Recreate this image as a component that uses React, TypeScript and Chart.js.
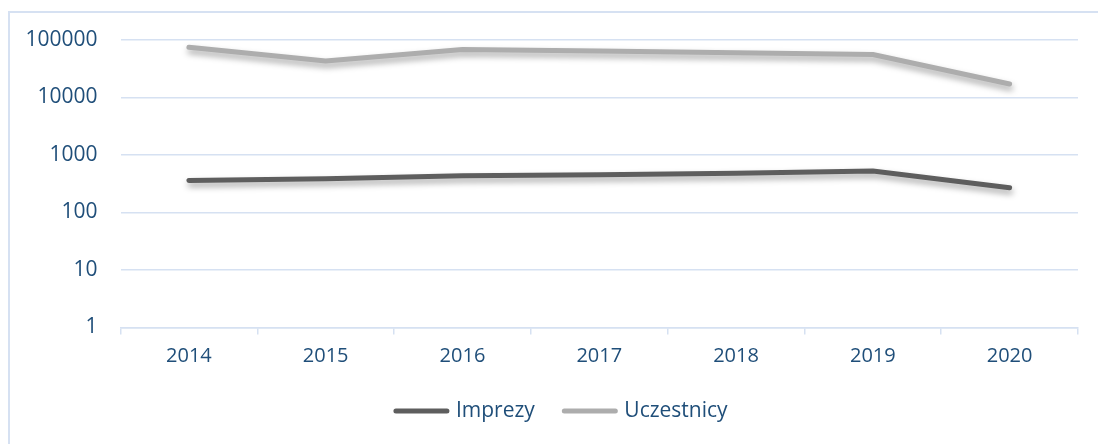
import React, { useEffect, useRef } from "react";
import { Chart, registerables } from "chart.js";

Chart.register(...registerables);

const years = ["2014", "2015", "2016", "2017", "2018", "2019", "2020"];
const imprezy = [360, 386, 437, 454, 482, 527, 270];
const uczestnicy = [75000, 43200, 68300, 64500, 60000, 56000, 17200];
const yTicks = [1, 10, 100, 1000, 10000, 100000];

const TEXT = "#1f4e79";
const GRID = "#d6e1f2";
const FONT = "'Open Sans', 'Noto Sans', sans-serif";

const shadowPlugin = {
  id: "lineShadow",
  beforeDatasetDraw(chart: any) {
    const ctx = chart.ctx;
    ctx.save();
    ctx.shadowColor = "rgba(0,0,0,0.35)";
    ctx.shadowBlur = 6;
    ctx.shadowOffsetX = 1;
    ctx.shadowOffsetY = 4;
  },
  afterDatasetDraw(chart: any) {
    chart.ctx.restore();
  },
};

// custom legend: line sample with round caps, then text
const legendPlugin = {
  id: "customLegend",
  afterDraw(chart: any) {
    const ctx = chart.ctx;
    const lineLen = 51;
    const textGap = 6.5;
    const itemGap = 27;
    const cy = 411;
    const centerX = 560.5;
    ctx.save();
    ctx.font = `21px ${FONT}`;
    const items = chart.data.datasets.map((d: any) => ({
      label: d.label,
      color: d.borderColor,
      w: ctx.measureText(d.label).width,
    }));
    const total =
      items.reduce((s: number, it: any) => s + 2.5 + lineLen + 2.5 + textGap + it.w, 0) +
      itemGap * (items.length - 1);
    let x = centerX - total / 2;
    for (const it of items) {
      ctx.beginPath();
      ctx.lineCap = "round";
      ctx.lineWidth = 5;
      ctx.strokeStyle = it.color;
      ctx.moveTo(x + 2.5, cy);
      ctx.lineTo(x + 2.5 + lineLen, cy);
      ctx.stroke();
      x += 5 + lineLen + textGap;
      ctx.fillStyle = TEXT;
      ctx.textBaseline = "middle";
      ctx.textAlign = "left";
      ctx.fillText(it.label, x, cy);
      x += it.w + itemGap;
    }
    ctx.restore();
  },
};

export default function App() {
  const ref = useRef<HTMLCanvasElement | null>(null);

  useEffect(() => {
    if (!ref.current) return;
    const chart = new Chart(ref.current, {
      type: "line",
      data: {
        labels: years,
        datasets: [
          {
            label: "Imprezy",
            data: imprezy,
            borderColor: "#5e5e5e",
            backgroundColor: "#5e5e5e",
            borderWidth: 5,
            borderCapStyle: "round",
            borderJoinStyle: "round",
            pointRadius: 0,
            tension: 0,
          },
          {
            label: "Uczestnicy",
            data: uczestnicy,
            borderColor: "#adadad",
            backgroundColor: "#adadad",
            borderWidth: 5,
            borderCapStyle: "round",
            borderJoinStyle: "round",
            pointRadius: 0,
            tension: 0,
          },
        ],
      },
      options: {
        animation: false,
        responsive: false,
        maintainAspectRatio: false,
        layout: { padding: { left: 0, right: 20, top: 40, bottom: 0 } },
        plugins: {
          tooltip: { enabled: false },
          legend: { display: false },
        },
        scales: {
          x: {
            offset: true,
            afterFit: (scale: any) => {
              scale.height = 116.5;
            },
            grid: {
              offset: true,
              drawOnChartArea: false,
              drawTicks: true,
              tickLength: 7,
              color: GRID,
              lineWidth: 1.5,
            },
            border: { display: true, color: GRID, width: 1.5 },
            ticks: {
              color: TEXT,
              font: { family: FONT, size: 20 },
              padding: 10,
            },
          },
          y: {
            type: "logarithmic",
            min: 1,
            max: 100000,
            afterBuildTicks: (scale: any) => {
              scale.ticks = yTicks.map((v) => ({ value: v }));
            },
            afterFit: (scale: any) => {
              scale.width = 120.5;
            },
            grid: { color: GRID, lineWidth: 1.5, drawTicks: false },
            border: { display: false },
            ticks: {
              color: TEXT,
              font: { family: FONT, size: 21 },
              padding: 23,
              callback: (v: any) => String(v),
            },
          },
        },
      },
      plugins: [shadowPlugin, legendPlugin],
    });
    return () => chart.destroy();
  }, []);

  return (
    <>
      <div
        style={{
          position: "fixed",
          left: 8,
          top: 11,
          width: 1200,
          height: 500,
          borderLeft: `2px solid ${GRID}`,
          borderTop: `2px solid ${GRID}`,
          boxSizing: "border-box",
        }}
      />
      <canvas
        ref={ref}
        width={1098}
        height={444}
        style={{ position: "fixed", left: 0, top: 0, width: 1098, height: 444 }}
      />
    </>
  );
}
